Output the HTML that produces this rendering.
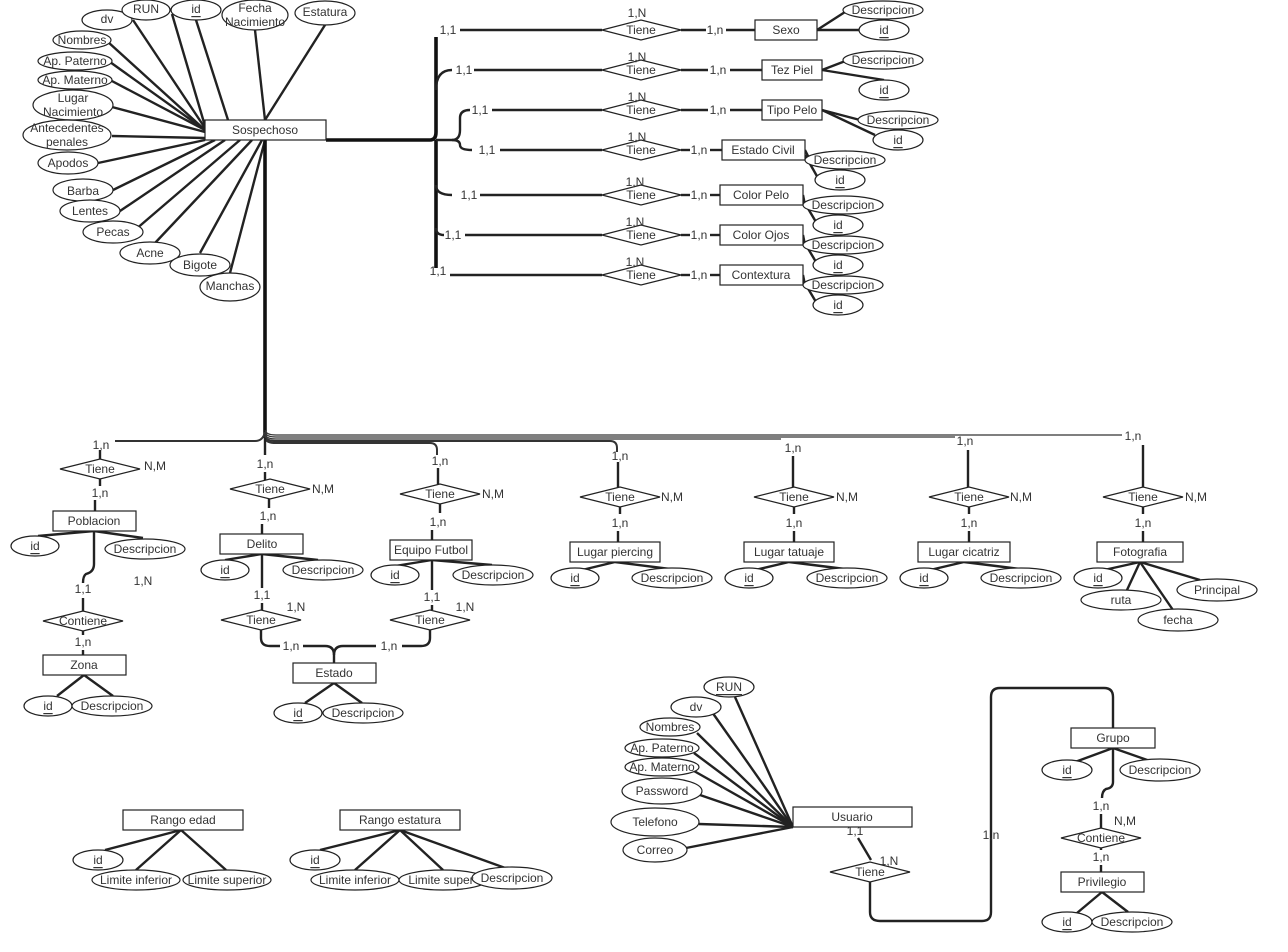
<!DOCTYPE html>
<html><head><meta charset="utf-8"><style>
html,body{margin:0;padding:0;background:#fff;}
svg{display:block;}
text{font-family:"Liberation Sans",sans-serif;font-size:12px;fill:#333;text-anchor:middle;dominant-baseline:central;}
.r{fill:#fff;stroke:#222;stroke-width:1.2;}
.e{fill:#fff;stroke:#222;stroke-width:1.2;}
.l{stroke:#222;stroke-width:2.4;fill:none;}
.t{stroke:#111;stroke-width:3.6;fill:none;}
.b{stroke:#333;stroke-width:1.3;fill:none;}
</style></head><body>
<svg width="1288" height="952" viewBox="0 0 1288 952" xmlns="http://www.w3.org/2000/svg">
<g class="l">
<line x1="133" y1="20" x2="205" y2="128"/>
<line x1="172" y1="14" x2="205" y2="126"/>
<line x1="196" y1="20" x2="228" y2="120"/>
<line x1="255" y1="30" x2="265" y2="120"/>
<line x1="325" y1="25" x2="265" y2="120"/>
<line x1="108" y1="42" x2="205" y2="130"/>
<line x1="110" y1="62" x2="205" y2="130"/>
<line x1="110" y1="80" x2="205" y2="130"/>
<line x1="112" y1="107" x2="205" y2="132"/>
<line x1="112" y1="136" x2="205" y2="138"/>
<line x1="98" y1="163" x2="205" y2="140"/>
<line x1="113" y1="190" x2="215" y2="140"/>
<line x1="120" y1="211" x2="225" y2="140"/>
<line x1="135" y1="230" x2="240" y2="140"/>
<line x1="155" y1="243" x2="252" y2="140"/>
<line x1="200" y1="253" x2="262" y2="140"/>
<line x1="230" y1="273" x2="265" y2="140"/>
</g>
<g class="e">
<ellipse cx="107" cy="20" rx="25" ry="10"/>
<ellipse cx="146" cy="10" rx="24" ry="10"/>
<ellipse cx="196" cy="10" rx="25" ry="10"/>
<ellipse cx="255" cy="15" rx="33" ry="15"/>
<ellipse cx="325" cy="13" rx="30" ry="12"/>
<ellipse cx="82" cy="40" rx="29" ry="9"/>
<ellipse cx="75" cy="61" rx="37" ry="9"/>
<ellipse cx="75" cy="80" rx="37" ry="9"/>
<ellipse cx="73" cy="105" rx="40" ry="15"/>
<ellipse cx="67" cy="135" rx="44" ry="15"/>
<ellipse cx="68" cy="163" rx="30" ry="11"/>
<ellipse cx="83" cy="190" rx="30" ry="11"/>
<ellipse cx="90" cy="211" rx="30" ry="11"/>
<ellipse cx="113" cy="232" rx="30" ry="11"/>
<ellipse cx="150" cy="253" rx="30" ry="11"/>
<ellipse cx="200" cy="265" rx="30" ry="11"/>
<ellipse cx="230" cy="287" rx="30" ry="14"/>
</g>
<text x="107" y="19">dv</text>
<text x="146" y="9">RUN</text>
<text x="196" y="9" text-decoration="underline">id</text>
<text x="255" y="8">Fecha</text><text x="255" y="22">Nacimiento</text>
<text x="325" y="12">Estatura</text>
<text x="82" y="40">Nombres</text>
<text x="75" y="61">Ap. Paterno</text>
<text x="75" y="80">Ap. Materno</text>
<text x="73" y="98">Lugar</text><text x="73" y="112">Nacimiento</text>
<text x="67" y="128">Antecedentes</text><text x="67" y="142">penales</text>
<text x="68" y="163">Apodos</text>
<text x="83" y="191">Barba</text>
<text x="90" y="211">Lentes</text>
<text x="113" y="232">Pecas</text>
<text x="150" y="253">Acne</text>
<text x="200" y="265">Bigote</text>
<text x="230" y="286">Manchas</text>

<path class="t" d="M326,140 L430,140 Q436,140 436,132 L436,37"/>
<path class="t" d="M436,140 L436,268"/>
<path class="t" d="M265,140 L265,438"/>
<path class="l" d="M436,90 Q436,70 452,70"/>
<path class="l" d="M436,140 L452,140 Q460,140 460,130 L460,118 Q460,110 470,110"/>
<path class="l" d="M452,140 Q460,140 460,145 Q460,150 472,150"/>
<path class="l" d="M436,185 Q436,195 452,195"/>
<path class="l" d="M436,228 Q436,235 444,235"/>

<g class="l">
<line x1="460" y1="30" x2="602" y2="30"/><line x1="681" y1="30" x2="706" y2="30"/><line x1="726" y1="30" x2="755" y2="30"/>
<line x1="474" y1="70" x2="602" y2="70"/><line x1="681" y1="70" x2="708" y2="70"/><line x1="730" y1="70" x2="762" y2="70"/>
<line x1="492" y1="110" x2="602" y2="110"/><line x1="681" y1="110" x2="708" y2="110"/><line x1="730" y1="110" x2="762" y2="110"/>
<line x1="500" y1="150" x2="602" y2="150"/><line x1="681" y1="150" x2="690" y2="150"/><line x1="710" y1="150" x2="722" y2="150"/>
<line x1="480" y1="195" x2="602" y2="195"/><line x1="681" y1="195" x2="690" y2="195"/><line x1="710" y1="195" x2="720" y2="195"/>
<line x1="465" y1="235" x2="602" y2="235"/><line x1="681" y1="235" x2="690" y2="235"/><line x1="710" y1="235" x2="720" y2="235"/>
<line x1="450" y1="275" x2="602" y2="275"/><line x1="681" y1="275" x2="690" y2="275"/><line x1="710" y1="275" x2="720" y2="275"/>
<line x1="817" y1="30" x2="845" y2="12"/><line x1="817" y1="30" x2="860" y2="30"/>
<line x1="822" y1="70" x2="848" y2="60"/><line x1="822" y1="70" x2="884" y2="80"/>
<line x1="822" y1="110" x2="860" y2="120"/><line x1="822" y1="110" x2="875" y2="135"/>
<line x1="805" y1="150" x2="810" y2="160"/><line x1="805" y1="155" x2="818" y2="178"/>
<line x1="803" y1="195" x2="805" y2="205"/><line x1="803" y1="200" x2="816" y2="222"/>
<line x1="803" y1="235" x2="805" y2="245"/><line x1="803" y1="240" x2="816" y2="262"/>
<line x1="803" y1="275" x2="805" y2="285"/><line x1="803" y1="280" x2="816" y2="302"/>
</g>
<g class="r">
<polygon points="602,30 641,20 681,30 641,40"/>
<polygon points="602,70 641,60 681,70 641,80"/>
<polygon points="602,110 641,100 681,110 641,120"/>
<polygon points="602,150 641,140 681,150 641,160"/>
<polygon points="602,195 641,185 681,195 641,205"/>
<polygon points="602,235 641,225 681,235 641,245"/>
<polygon points="602,275 641,265 681,275 641,285"/>
<rect x="755" y="20" width="62" height="20"/>
<rect x="762" y="60" width="60" height="20"/>
<rect x="762" y="100" width="60" height="20"/>
<rect x="722" y="140" width="83" height="20"/>
<rect x="720" y="185" width="83" height="20"/>
<rect x="720" y="225" width="83" height="20"/>
<rect x="720" y="265" width="83" height="20"/>
<rect x="205" y="120" width="121" height="20"/>
</g>
<g class="e">
<ellipse cx="883" cy="10" rx="40" ry="9"/><ellipse cx="884" cy="30" rx="25" ry="10"/>
<ellipse cx="883" cy="60" rx="40" ry="9"/><ellipse cx="884" cy="90" rx="25" ry="10"/>
<ellipse cx="898" cy="120" rx="40" ry="9"/><ellipse cx="898" cy="140" rx="25" ry="10"/>
<ellipse cx="845" cy="160" rx="40" ry="9"/><ellipse cx="840" cy="180" rx="25" ry="10"/>
<ellipse cx="843" cy="205" rx="40" ry="9"/><ellipse cx="838" cy="225" rx="25" ry="10"/>
<ellipse cx="843" cy="245" rx="40" ry="9"/><ellipse cx="838" cy="265" rx="25" ry="10"/>
<ellipse cx="843" cy="285" rx="40" ry="9"/><ellipse cx="838" cy="305" rx="25" ry="10"/>
</g>
<text x="265" y="130">Sospechoso</text>
<text x="786" y="30">Sexo</text><text x="792" y="70">Tez Piel</text><text x="792" y="110">Tipo Pelo</text>
<text x="763" y="150">Estado Civil</text><text x="761" y="195">Color Pelo</text><text x="761" y="235">Color Ojos</text><text x="761" y="275">Contextura</text>
<g>
<text x="641" y="30">Tiene</text><text x="641" y="70">Tiene</text><text x="641" y="110">Tiene</text><text x="641" y="150">Tiene</text><text x="641" y="195">Tiene</text><text x="641" y="235">Tiene</text><text x="641" y="275">Tiene</text>
<text x="637" y="13">1,N</text><text x="637" y="57">1,N</text><text x="637" y="97">1,N</text><text x="637" y="137">1,N</text><text x="635" y="182">1,N</text><text x="635" y="222">1,N</text><text x="635" y="262">1,N</text>
<text x="448" y="30">1,1</text><text x="464" y="70">1,1</text><text x="480" y="110">1,1</text><text x="487" y="150">1,1</text><text x="469" y="195">1,1</text><text x="453" y="235">1,1</text><text x="438" y="271">1,1</text>
<text x="715" y="30">1,n</text><text x="718" y="70">1,n</text><text x="718" y="110">1,n</text><text x="699" y="150">1,n</text><text x="699" y="195">1,n</text><text x="699" y="235">1,n</text><text x="699" y="275">1,n</text>
<text x="883" y="10">Descripcion</text><text x="884" y="30" text-decoration="underline">id</text>
<text x="883" y="60">Descripcion</text><text x="884" y="90" text-decoration="underline">id</text>
<text x="898" y="120">Descripcion</text><text x="898" y="140" text-decoration="underline">id</text>
<text x="845" y="160">Descripcion</text><text x="840" y="180" text-decoration="underline">id</text>
<text x="843" y="205">Descripcion</text><text x="838" y="225" text-decoration="underline">id</text>
<text x="843" y="245">Descripcion</text><text x="838" y="265" text-decoration="underline">id</text>
<text x="843" y="285">Descripcion</text><text x="838" y="305" text-decoration="underline">id</text>
</g>

<g class="b">
<path d="M115,441 L255,441 Q263,441 265,432" stroke-width="2"/>
<path d="M265,430 Q266,435 276,435 L1122,435"/>
<path d="M265,432 Q266,437 276,437 L955,437"/>
<path d="M265,434 Q266,439 276,439 L781,439"/>
<path d="M265,436 Q266,441 276,441 L610,441 Q617,441 617,448 L617,452" stroke-width="2"/>
<path d="M265,438 Q266,443 276,443 L430,443 Q437,443 437,450 L437,455" stroke-width="2"/>
</g>
<g class="l">
<path d="M265,438 L265,455"/>
<path d="M1143,445 L1143,488"/>
<path d="M968,450 L968,488"/>
<path d="M793,456 L793,488"/>
<path d="M618,462 L618,488"/>
<path d="M438,468 L438,485"/>
<path d="M265,472 L265,480"/>
<line x1="100" y1="450" x2="100" y2="459"/><line x1="100" y1="479" x2="100" y2="486"/><line x1="95" y1="500" x2="95" y2="511"/>
<line x1="94" y1="531" x2="38" y2="536"/><line x1="94" y1="531" x2="143" y2="538"/>
<path d="M94,531 L94,564 Q94,572 86,574 Q83,576 83,583"/>
<line x1="83" y1="598" x2="83" y2="611"/><line x1="83" y1="631" x2="83" y2="635"/><line x1="83" y1="650" x2="83" y2="655"/>
<line x1="84" y1="675" x2="57" y2="696"/><line x1="84" y1="675" x2="113" y2="696"/>
<line x1="269" y1="499" x2="269" y2="508"/><line x1="262" y1="524" x2="262" y2="534"/>
<line x1="262" y1="554" x2="225" y2="560"/><line x1="262" y1="554" x2="318" y2="560"/>
<line x1="262" y1="554" x2="262" y2="588"/><line x1="262" y1="603" x2="262" y2="610"/>
<path d="M261,630 L261,638 Q261,646 270,646 L280,646"/><path d="M303,646 L325,646 Q334,646 334,655 L334,663"/>
<line x1="334" y1="683" x2="305" y2="703"/><line x1="334" y1="683" x2="362" y2="703"/>
<line x1="440" y1="504" x2="440" y2="513"/><line x1="432" y1="530" x2="432" y2="540"/>
<line x1="432" y1="560" x2="395" y2="566"/><line x1="432" y1="560" x2="492" y2="565"/>
<line x1="432" y1="560" x2="432" y2="590"/><line x1="432" y1="605" x2="432" y2="610"/>
<path d="M430,630 L430,638 Q430,646 421,646 L402,646"/><path d="M376,646 L343,646 Q334,646 334,655"/>
<line x1="620" y1="507" x2="620" y2="514"/><line x1="618" y1="531" x2="618" y2="542"/>
<line x1="615" y1="562" x2="582" y2="570"/><line x1="615" y1="562" x2="670" y2="569"/>
<line x1="794" y1="507" x2="794" y2="514"/><line x1="794" y1="531" x2="794" y2="542"/>
<line x1="789" y1="562" x2="755" y2="570"/><line x1="789" y1="562" x2="845" y2="569"/>
<line x1="969" y1="507" x2="969" y2="514"/><line x1="969" y1="531" x2="969" y2="542"/>
<line x1="964" y1="562" x2="930" y2="570"/><line x1="964" y1="562" x2="1020" y2="569"/>
<line x1="1143" y1="507" x2="1143" y2="514"/><line x1="1143" y1="531" x2="1143" y2="542"/>
<line x1="1140" y1="562" x2="1104" y2="570"/><line x1="1140" y1="562" x2="1127" y2="590"/>
<line x1="1140" y1="562" x2="1173" y2="610"/><line x1="1140" y1="562" x2="1200" y2="580"/>
<line x1="181" y1="830" x2="105" y2="850"/><line x1="181" y1="830" x2="136" y2="870"/><line x1="181" y1="830" x2="226" y2="870"/>
<line x1="400" y1="830" x2="320" y2="850"/><line x1="400" y1="830" x2="355" y2="870"/><line x1="400" y1="830" x2="443" y2="870"/><line x1="400" y1="830" x2="508" y2="869"/>
<line x1="735" y1="697" x2="793" y2="827"/><line x1="712" y1="712" x2="793" y2="827"/>
<line x1="697" y1="733" x2="793" y2="827"/><line x1="694" y1="753" x2="793" y2="827"/>
<line x1="694" y1="771" x2="793" y2="827"/><line x1="700" y1="795" x2="793" y2="827"/>
<line x1="699" y1="824" x2="793" y2="827"/><line x1="686" y1="848" x2="793" y2="827"/>
<line x1="858" y1="838" x2="871" y2="860"/>
<path d="M870,882 L870,912 Q870,921 880,921 L982,921 Q991,921 991,912 L991,697 Q991,688 1000,688 L1104,688 Q1113,688 1113,697 L1113,728"/>
<line x1="1113" y1="748" x2="1075" y2="762"/><line x1="1113" y1="748" x2="1150" y2="761"/>
<path d="M1113,748 L1113,782 Q1113,788 1106,789 Q1102,791 1102,798"/>
<line x1="1101" y1="814" x2="1101" y2="828"/><line x1="1101" y1="848" x2="1101" y2="850"/><line x1="1101" y1="865" x2="1101" y2="872"/>
<line x1="1102" y1="892" x2="1077" y2="913"/><line x1="1102" y1="892" x2="1128" y2="912"/>
</g>
<g class="r">
<polygon points="60,469 100,459 140,469 100,479"/>
<polygon points="43,621 83,611 123,621 83,631"/>
<polygon points="230,489 270,479 310,489 270,499"/>
<polygon points="221,620 261,610 301,620 261,630"/>
<polygon points="400,494 440,484 480,494 440,504"/>
<polygon points="390,620 430,610 470,620 430,630"/>
<polygon points="580,497 620,487 660,497 620,507"/>
<polygon points="754,497 794,487 834,497 794,507"/>
<polygon points="929,497 969,487 1009,497 969,507"/>
<polygon points="1103,497 1143,487 1183,497 1143,507"/>
<polygon points="830,872 870,862 910,872 870,882"/>
<polygon points="1061,838 1101,828 1141,838 1101,848"/>
<rect x="53" y="511" width="83" height="20"/>
<rect x="43" y="655" width="83" height="20"/>
<rect x="220" y="534" width="83" height="20"/>
<rect x="390" y="540" width="82" height="20"/>
<rect x="293" y="663" width="83" height="20"/>
<rect x="570" y="542" width="90" height="20"/>
<rect x="744" y="542" width="90" height="20"/>
<rect x="918" y="542" width="92" height="20"/>
<rect x="1097" y="542" width="86" height="20"/>
<rect x="123" y="810" width="120" height="20"/>
<rect x="340" y="810" width="120" height="20"/>
<rect x="793" y="807" width="119" height="20"/>
<rect x="1071" y="728" width="84" height="20"/>
<rect x="1061" y="872" width="83" height="20"/>
</g>
<g class="e">
<ellipse cx="35" cy="546" rx="24" ry="10"/><ellipse cx="145" cy="549" rx="40" ry="10"/>
<ellipse cx="48" cy="706" rx="24" ry="10"/><ellipse cx="112" cy="706" rx="40" ry="10"/>
<ellipse cx="225" cy="570" rx="24" ry="10"/><ellipse cx="323" cy="570" rx="40" ry="10"/>
<ellipse cx="395" cy="575" rx="24" ry="10"/><ellipse cx="493" cy="575" rx="40" ry="10"/>
<ellipse cx="298" cy="713" rx="24" ry="10"/><ellipse cx="363" cy="713" rx="40" ry="10"/>
<ellipse cx="575" cy="578" rx="24" ry="10"/><ellipse cx="672" cy="578" rx="40" ry="10"/>
<ellipse cx="749" cy="578" rx="24" ry="10"/><ellipse cx="847" cy="578" rx="40" ry="10"/>
<ellipse cx="924" cy="578" rx="24" ry="10"/><ellipse cx="1021" cy="578" rx="40" ry="10"/>
<ellipse cx="1098" cy="578" rx="24" ry="10"/><ellipse cx="1121" cy="600" rx="40" ry="10"/>
<ellipse cx="1178" cy="620" rx="40" ry="11"/><ellipse cx="1217" cy="590" rx="40" ry="11"/>
<ellipse cx="98" cy="860" rx="25" ry="10"/><ellipse cx="136" cy="880" rx="44" ry="10"/><ellipse cx="227" cy="880" rx="44" ry="10"/>
<ellipse cx="315" cy="860" rx="25" ry="10"/><ellipse cx="355" cy="880" rx="44" ry="10"/><ellipse cx="443" cy="880" rx="44" ry="10"/><ellipse cx="512" cy="878" rx="40" ry="11"/>
<ellipse cx="729" cy="687" rx="25" ry="10"/><ellipse cx="696" cy="707" rx="25" ry="10"/>
<ellipse cx="670" cy="727" rx="30" ry="9"/><ellipse cx="662" cy="748" rx="37" ry="9"/>
<ellipse cx="662" cy="767" rx="37" ry="9"/><ellipse cx="662" cy="791" rx="40" ry="13"/>
<ellipse cx="655" cy="822" rx="44" ry="14"/><ellipse cx="655" cy="850" rx="32" ry="12"/>
<ellipse cx="1067" cy="770" rx="25" ry="10"/><ellipse cx="1160" cy="770" rx="40" ry="11"/>
<ellipse cx="1067" cy="922" rx="25" ry="10"/><ellipse cx="1132" cy="922" rx="40" ry="10"/>
</g>
<g>
<text x="101" y="445">1,n</text><text x="100" y="469">Tiene</text><text x="155" y="466">N,M</text><text x="100" y="493">1,n</text>
<text x="94" y="521">Poblacion</text><text x="35" y="546" text-decoration="underline">id</text><text x="145" y="549">Descripcion</text>
<text x="83" y="589">1,1</text><text x="143" y="581">1,N</text><text x="83" y="621">Contiene</text><text x="83" y="642">1,n</text>
<text x="84" y="665">Zona</text><text x="48" y="706" text-decoration="underline">id</text><text x="112" y="706">Descripcion</text>
<text x="265" y="464">1,n</text><text x="270" y="489">Tiene</text><text x="323" y="489">N,M</text><text x="268" y="516">1,n</text>
<text x="262" y="544">Delito</text><text x="225" y="570" text-decoration="underline">id</text><text x="323" y="570">Descripcion</text>
<text x="262" y="595">1,1</text><text x="296" y="607">1,N</text><text x="261" y="620">Tiene</text><text x="291" y="646">1,n</text>
<text x="440" y="461">1,n</text><text x="440" y="494">Tiene</text><text x="493" y="494">N,M</text><text x="438" y="522">1,n</text>
<text x="431" y="550">Equipo Futbol</text><text x="395" y="575" text-decoration="underline">id</text><text x="493" y="575">Descripcion</text>
<text x="432" y="597">1,1</text><text x="465" y="607">1,N</text><text x="430" y="620">Tiene</text><text x="389" y="646">1,n</text>
<text x="334" y="673">Estado</text><text x="298" y="713" text-decoration="underline">id</text><text x="363" y="713">Descripcion</text>
<text x="620" y="456">1,n</text><text x="620" y="497">Tiene</text><text x="672" y="497">N,M</text><text x="620" y="523">1,n</text>
<text x="615" y="552">Lugar piercing</text><text x="575" y="578" text-decoration="underline">id</text><text x="672" y="578">Descripcion</text>
<text x="793" y="448">1,n</text><text x="794" y="497">Tiene</text><text x="847" y="497">N,M</text><text x="794" y="523">1,n</text>
<text x="789" y="552">Lugar tatuaje</text><text x="749" y="578" text-decoration="underline">id</text><text x="847" y="578">Descripcion</text>
<text x="965" y="441">1,n</text><text x="969" y="497">Tiene</text><text x="1021" y="497">N,M</text><text x="969" y="523">1,n</text>
<text x="964" y="552">Lugar cicatriz</text><text x="924" y="578" text-decoration="underline">id</text><text x="1021" y="578">Descripcion</text>
<text x="1133" y="436">1,n</text><text x="1143" y="497">Tiene</text><text x="1196" y="497">N,M</text><text x="1143" y="523">1,n</text>
<text x="1140" y="552">Fotografia</text><text x="1098" y="578" text-decoration="underline">id</text><text x="1121" y="600">ruta</text>
<text x="1178" y="620">fecha</text><text x="1217" y="590">Principal</text>
<text x="183" y="820">Rango edad</text><text x="98" y="860" text-decoration="underline">id</text><text x="136" y="880">Limite inferior</text><text x="227" y="880">Limite superior</text>
<text x="400" y="820">Rango estatura</text><text x="315" y="860" text-decoration="underline">id</text><text x="355" y="880">Limite inferior</text><text x="441" y="880">Limite super</text><text x="512" y="878">Descripcion</text>
<text x="729" y="687" text-decoration="underline">RUN</text><text x="696" y="707">dv</text><text x="670" y="727">Nombres</text>
<text x="662" y="748">Ap. Paterno</text><text x="662" y="767">Ap. Materno</text><text x="662" y="791">Password</text>
<text x="655" y="822">Telefono</text><text x="655" y="850">Correo</text>
<text x="852" y="817">Usuario</text><text x="855" y="831">1,1</text><text x="889" y="861">1,N</text><text x="870" y="872">Tiene</text>
<text x="991" y="835">1,n</text>
<text x="1113" y="738">Grupo</text><text x="1067" y="770" text-decoration="underline">id</text><text x="1160" y="770">Descripcion</text>
<text x="1101" y="806">1,n</text><text x="1125" y="821">N,M</text><text x="1101" y="838">Contiene</text><text x="1101" y="857">1,n</text>
<text x="1102" y="882">Privilegio</text><text x="1067" y="922" text-decoration="underline">id</text><text x="1132" y="922">Descripcion</text>
</g>
</svg>
</body></html>
